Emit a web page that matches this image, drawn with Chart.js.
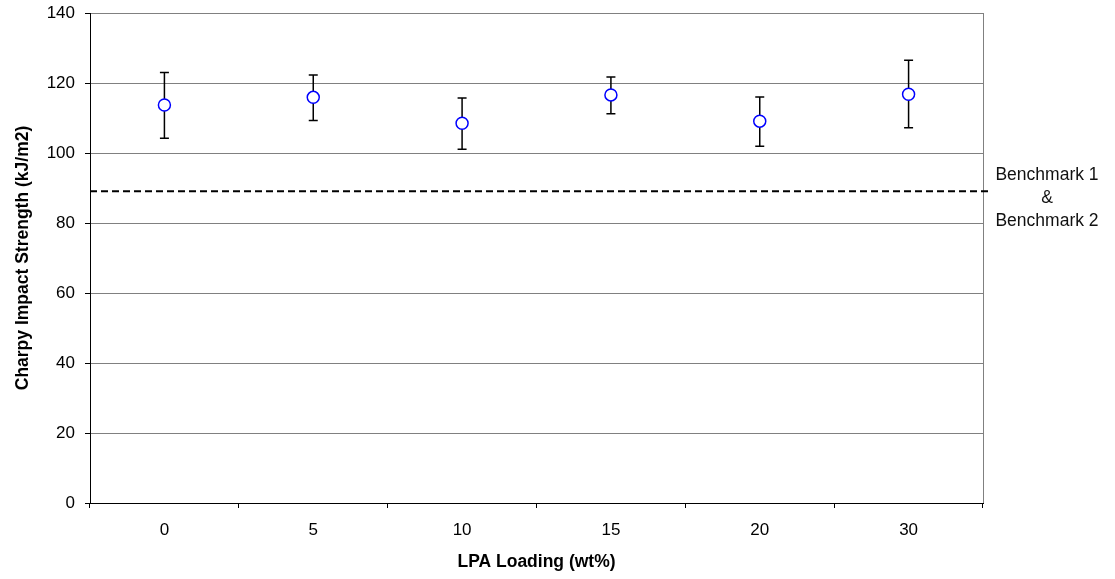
<!DOCTYPE html>
<html>
<head>
  <meta charset="utf-8">
  <title>Charpy Impact Strength</title>
  <script src="https://cdn.jsdelivr.net/npm/chart.js@4"></script>
  <style>
    body { margin: 0; background: #fff; }
  </style>
</head>
<body>
  <canvas id="impactChart" width="1115" height="579"></canvas>
  <script>
    const loadings = ['0', '5', '10', '15', '20', '30'];
    const impactStrength = [113.7, 115.9, 108.5, 116.6, 109.1, 116.8];
    const errHigh = [123.0, 122.3, 115.7, 121.7, 116.0, 126.5];
    const errLow = [104.2, 109.3, 101.1, 111.2, 101.9, 107.2];
    const benchmark = 89.1;
    const benchmarkLabel = ['Benchmark 1', '&', 'Benchmark 2'];

    const fontFamily = "'Liberation Sans', Arial, sans-serif";

    const extrasPlugin = {
      id: 'extras',
      beforeDatasetsDraw(chart) {
        const { ctx, chartArea, scales } = chart;
        const x = scales.x;
        const y = scales.y;
        ctx.save();

        // right border of plot
        ctx.strokeStyle = '#808080';
        ctx.lineWidth = 1;
        ctx.beginPath();
        ctx.moveTo(chartArea.right + 0.5, chartArea.top);
        ctx.lineTo(chartArea.right + 0.5, chartArea.bottom);
        ctx.stroke();

        // benchmark line, runs a little past the plot edge
        const by = y.getPixelForValue(benchmark);
        ctx.strokeStyle = '#000';
        ctx.lineWidth = 2;
        ctx.setLineDash([7, 4]);
        ctx.beginPath();
        ctx.moveTo(chartArea.left, by);
        ctx.lineTo(chartArea.right + 7, by);
        ctx.stroke();
        ctx.setLineDash([]);

        ctx.fillStyle = '#111';
        ctx.font = '17.5px ' + fontFamily;
        ctx.textAlign = 'center';
        ctx.textBaseline = 'middle';
        benchmarkLabel.forEach((t, i) => {
          ctx.fillText(t, chartArea.right + 64, by - 16 + i * 23);
        });

        // error bars
        ctx.strokeStyle = '#000';
        ctx.lineWidth = 1.5;
        loadings.forEach((_, i) => {
          const px = x.getPixelForValue(i);
          const top = y.getPixelForValue(errHigh[i]);
          const bot = y.getPixelForValue(errLow[i]);
          ctx.beginPath();
          ctx.moveTo(px, top);
          ctx.lineTo(px, bot);
          ctx.moveTo(px - 4.5, top);
          ctx.lineTo(px + 4.5, top);
          ctx.moveTo(px - 4.5, bot);
          ctx.lineTo(px + 4.5, bot);
          ctx.stroke();
        });
        ctx.restore();
      }
    };

    new Chart(document.getElementById('impactChart'), {
      type: 'line',
      data: {
        labels: loadings,
        datasets: [{
          label: 'Charpy Impact Strength',
          data: impactStrength,
          showLine: false,
          pointStyle: 'circle',
          pointRadius: 6,
          pointHoverRadius: 6,
          pointBorderColor: '#0000ff',
          pointBackgroundColor: '#ffffff',
          pointBorderWidth: 1.5
        }]
      },
      options: {
        responsive: false,
        animation: false,
        layout: {
          autoPadding: false,
          padding: { top: 13, right: 132, left: 0, bottom: 0 }
        },
        plugins: {
          legend: { display: false },
          tooltip: { enabled: false }
        },
        scales: {
          x: {
            offset: true,
            grid: {
              offset: true,
              drawOnChartArea: false,
              drawTicks: true,
              tickLength: 5,
              color: '#000'
            },
            border: { color: '#000', width: 1 },
            ticks: {
              color: '#000',
              padding: 12,
              font: { family: fontFamily, size: 17 }
            },
            title: {
              display: true,
              text: 'LPA Loading (wt%)',
              color: '#000',
              padding: { top: 0, bottom: 6 },
              font: { family: fontFamily, size: 17.5, weight: 'bold' }
            },
            afterFit(scale) {
              scale.height = 76;
              scale.paddingLeft = 0;
              scale.paddingRight = 0;
            }
          },
          y: {
            min: 0,
            max: 140,
            ticks: {
              stepSize: 20,
              color: '#000',
              padding: 10,
              font: { family: fontFamily, size: 17 }
            },
            grid: {
              color: '#808080',
              tickColor: '#000',
              tickLength: 5,
              drawTicks: true
            },
            border: { color: '#000', width: 1 },
            title: {
              display: true,
              text: 'Charpy Impact Strength (kJ/m2)',
              color: '#000',
              padding: { top: 13, bottom: 0 },
              font: { family: fontFamily, size: 17.5, weight: 'bold' }
            },
            afterFit(scale) {
              scale.width = 90;
              scale.paddingTop = 0;
              scale.paddingBottom = 0;
            }
          }
        }
      },
      plugins: [extrasPlugin]
    });
  </script>
</body>
</html>
